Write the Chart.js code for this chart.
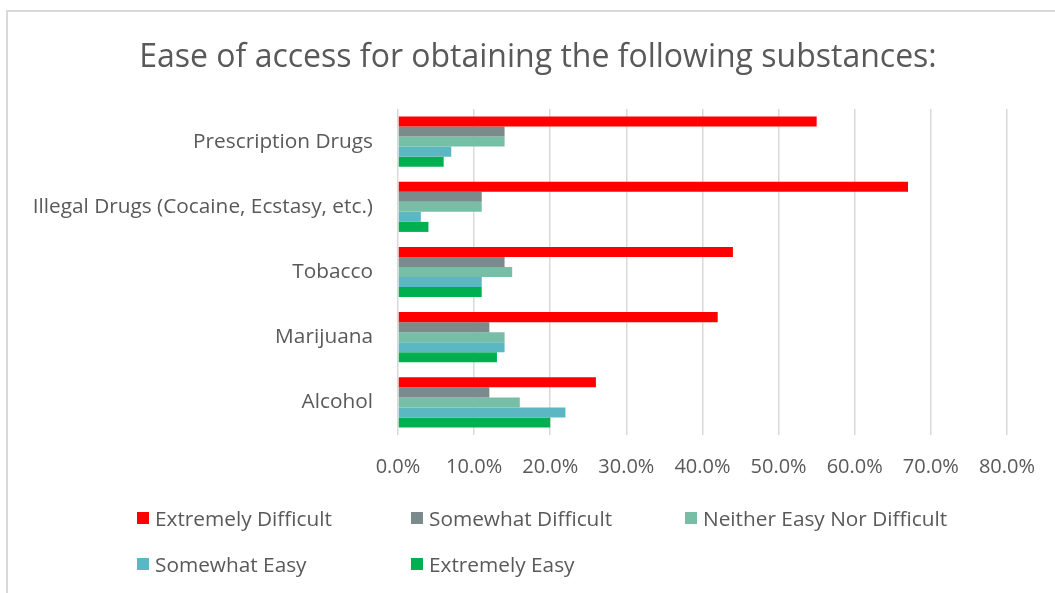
<!DOCTYPE html>
<html lang="en">
<head>
    <meta charset="UTF-8">
    <title>Ease of access</title>
    <script src="https://cdn.jsdelivr.net/npm/chart.js"></script>
    <style>
        body { margin: 0; background: #fff; font-family: "Open Sans", sans-serif; }
        .wrap { position: relative; width: 1055px; height: 593px; overflow: hidden; }
        .frame { position: absolute; left: 6px; top: 10px; right: -10px; bottom: -10px;
                 border-left: 2px solid #d9d9d9; border-top: 2px solid #d9d9d9; }
        canvas { position: absolute; left: 0; top: 0; }
        h1 { position: absolute; left: 38px; width: 1000px; top: 36px; margin: 0;
             text-align: center; font-weight: normal; font-size: 32px; line-height: 38px;
             color: #595959; white-space: nowrap; }
        #legend { position: absolute; left: 137px; top: 505px; display: grid;
                  grid-template-columns: 274px 274px 274px; row-gap: 20px;
                  color: #595959; font-size: 20.8px; }
        #legend div { display: flex; align-items: center; height: 26px; white-space: nowrap; }
        #legend span.sw { width: 12px; height: 12px; margin-right: 6px; display: inline-block; }
    </style>
    <script>
        const categories = ['Prescription Drugs', 'Illegal Drugs (Cocaine, Ecstasy, etc.)', 'Tobacco', 'Marijuana', 'Alcohol'];
        const seriesNames = ['Extremely Difficult', 'Somewhat Difficult', 'Neither Easy Nor Difficult', 'Somewhat Easy', 'Extremely Easy'];
        const extremelyDifficult = [55, 67, 44, 42, 26];
        const somewhatDifficult  = [14, 11, 14, 12, 12];
        const neitherEasyNorDiff = [14, 11, 15, 14, 16];
        const somewhatEasy       = [7, 3, 11, 14, 22];
        const extremelyEasy      = [6, 4, 11, 13, 20];
        const xTicks = [0, 10, 20, 30, 40, 50, 60, 70, 80];
        const colors = ['#FF0000', '#7B8B8C', '#76BEA6', '#5BB7C1', '#00B050'];
    </script>
</head>
<body>
    <div class="wrap">
        <div class="frame"></div>
        <canvas id="chart" width="1055" height="593"></canvas>
        <h1>Ease of access for obtaining the following substances:</h1>
        <div id="legend"></div>
    </div>
    <script>
        const values = [extremelyDifficult, somewhatDifficult, neitherEasyNorDiff, somewhatEasy, extremelyEasy];
        const datasets = seriesNames.map((name, i) => ({
            label: name,
            data: values[i],
            backgroundColor: colors[i],
            borderWidth: 0,
            barPercentage: 1,
            categoryPercentage: 0.77
        }));

        const chart = new Chart(document.getElementById('chart'), {
            type: 'bar',
            data: { labels: categories, datasets: datasets },
            options: {
                indexAxis: 'y',
                responsive: false,
                animation: false,
                layout: { padding: { left: 20, right: 46, top: 109, bottom: 110 } },
                plugins: {
                    legend: { display: false },
                    tooltip: { enabled: false }
                },
                scales: {
                    x: {
                        min: 0, max: 80,
                        afterBuildTicks: s => { s.ticks = xTicks.map(v => ({ value: v })); },
                        afterFit: s => { s.height = 48; },
                        border: { display: false },
                        grid: { color: '#d9d9d9', lineWidth: 1.5, drawTicks: false },
                        ticks: {
                            color: '#595959', padding: 20, maxRotation: 0,
                            font: { family: 'Open Sans', size: 20 },
                            callback: v => v.toFixed(1) + '%'
                        }
                    },
                    y: {
                        afterFit: s => { s.width = 378; },
                        border: { display: false },
                        grid: { display: false },
                        ticks: {
                            color: '#595959', padding: 17,
                            font: { family: 'Open Sans', size: 20.8 }
                        }
                    }
                }
            }
        });

        // legend laid out as a three column grid, filled from the datasets
        const legend = document.getElementById('legend');
        chart.data.datasets.forEach(ds => {
            const item = document.createElement('div');
            item.innerHTML = '<span class="sw" style="background:' + ds.backgroundColor + '"></span>' + ds.label;
            legend.appendChild(item);
        });
    </script>
</body>
</html>
